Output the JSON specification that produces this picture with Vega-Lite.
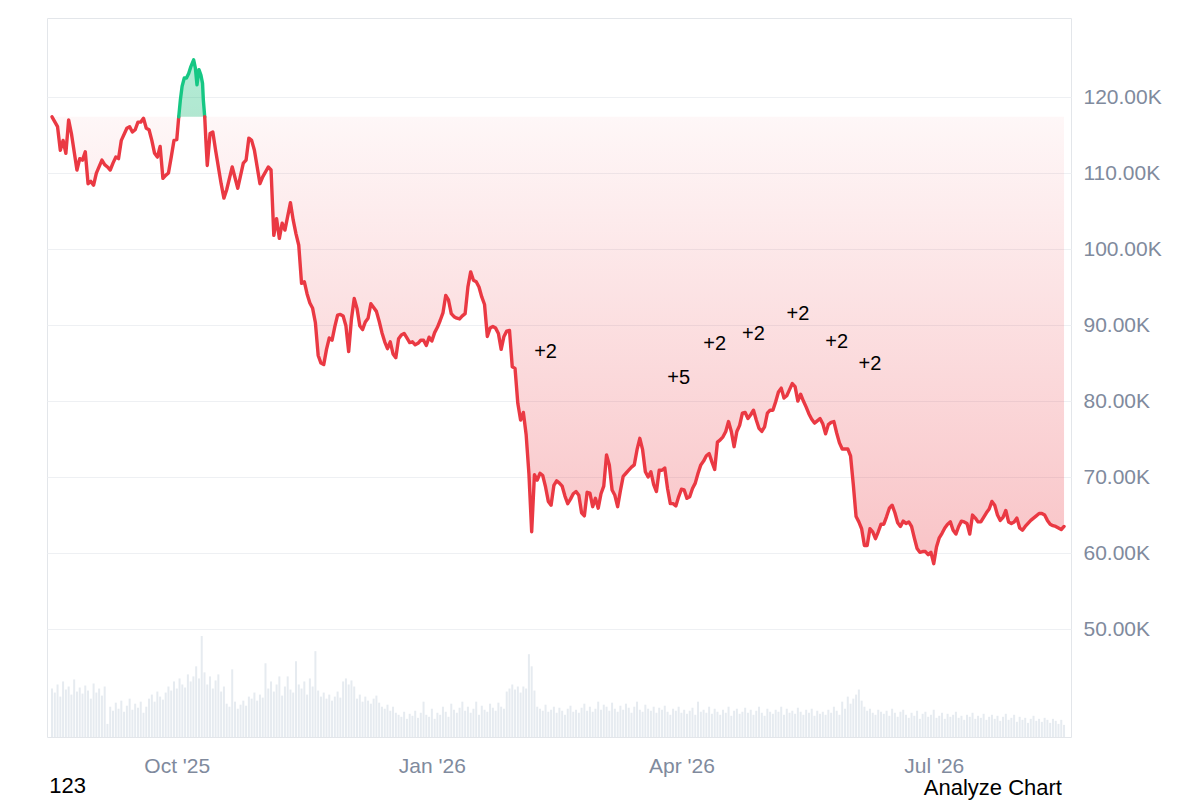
{
  "$schema": "https://vega.github.io/schema/vega-lite/v6.json",
  "width": 1024,
  "height": 719,
  "autosize": {"type": "none"},
  "padding": {"left": 47, "top": 18, "right": 129, "bottom": 63},
  "background": "white",
  "config": {"font": "Liberation Sans", "view": {"stroke": "#e3e6ea", "strokeWidth": 1}},
  "datasets": {
    "price": [
      {"t":"2025-08-17","p":117.4,"s":"a"},{"t":"2025-08-19","p":116.1,"s":"a"},{"t":"2025-08-20","p":113.0,"s":"a"},{"t":"2025-08-21","p":114.3,"s":"a"},{"t":"2025-08-22","p":112.6,"s":"a"},{"t":"2025-08-23","p":117.0,"s":"a"},{"t":"2025-08-24","p":115.2,"s":"a"},{"t":"2025-08-26","p":110.4,"s":"a"},{"t":"2025-08-27","p":111.9,"s":"a"},{"t":"2025-08-28","p":111.7,"s":"a"},{"t":"2025-08-29","p":112.8,"s":"a"},{"t":"2025-08-30","p":108.6,"s":"a"},{"t":"2025-08-31","p":108.9,"s":"a"},
      {"t":"2025-09-01","p":108.4,"s":"a"},{"t":"2025-09-02","p":110.0,"s":"a"},{"t":"2025-09-04","p":111.7,"s":"a"},{"t":"2025-09-05","p":111.1,"s":"a"},{"t":"2025-09-06","p":110.8,"s":"a"},{"t":"2025-09-07","p":110.4,"s":"a"},{"t":"2025-09-08","p":111.3,"s":"a"},{"t":"2025-09-09","p":112.1,"s":"a"},{"t":"2025-09-10","p":111.9,"s":"a"},{"t":"2025-09-11","p":114.3,"s":"a"},{"t":"2025-09-13","p":115.9,"s":"a"},{"t":"2025-09-14","p":116.1,"s":"a"},{"t":"2025-09-15","p":115.4,"s":"a"},{"t":"2025-09-16","p":115.7,"s":"a"},{"t":"2025-09-17","p":116.7,"s":"a"},{"t":"2025-09-18","p":116.7,"s":"a"},{"t":"2025-09-19","p":117.2,"s":"a"},{"t":"2025-09-20","p":115.9,"s":"a"},{"t":"2025-09-21","p":115.7,"s":"a"},{"t":"2025-09-22","p":114.3,"s":"a"},{"t":"2025-09-23","p":112.6,"s":"a"},{"t":"2025-09-24","p":112.1,"s":"a"},{"t":"2025-09-25","p":113.5,"s":"a"},{"t":"2025-09-26","p":109.3,"s":"a"},{"t":"2025-09-27","p":109.7,"s":"a"},{"t":"2025-09-28","p":110.0,"s":"a"},{"t":"2025-09-29","p":112.1,"s":"a"},{"t":"2025-09-30","p":114.3,"s":"a"},{"t":"2025-10-01","p":114.4,"s":"a"},{"t":"2025-10-01T17:00Z","p":117.4,"s":"a"},
      {"t":"2025-10-01T17:00Z","p":117.4,"s":"up"},{"t":"2025-10-02T07:00Z","p":119.6,"s":"up"},{"t":"2025-10-02T22:00Z","p":121.4,"s":"up"},{"t":"2025-10-03T17:00Z","p":122.5,"s":"up"},{"t":"2025-10-04T12:00Z","p":122.5,"s":"up"},{"t":"2025-10-05T07:00Z","p":123.1,"s":"up"},{"t":"2025-10-06T02:00Z","p":124.0,"s":"up"},{"t":"2025-10-07T02:00Z","p":124.9,"s":"up"},{"t":"2025-10-07T17:00Z","p":123.8,"s":"up"},{"t":"2025-10-08T07:00Z","p":121.6,"s":"up"},{"t":"2025-10-09T00:00Z","p":123.6,"s":"up"},{"t":"2025-10-09T17:00Z","p":122.9,"s":"up"},{"t":"2025-10-10T07:00Z","p":121.8,"s":"up"},{"t":"2025-10-10T14:00Z","p":119.6,"s":"up"},{"t":"2025-10-11T02:00Z","p":117.4,"s":"up"},
      {"t":"2025-10-11T02:00Z","p":117.4,"s":"b"},{"t":"2025-10-11T12:00Z","p":114.3,"s":"b"},{"t":"2025-10-12","p":111.0,"s":"b"},{"t":"2025-10-13","p":115.2,"s":"b"},{"t":"2025-10-14","p":115.4,"s":"b"},{"t":"2025-10-15","p":113.0,"s":"b"},{"t":"2025-10-17","p":108.6,"s":"b"},{"t":"2025-10-18","p":106.7,"s":"b"},{"t":"2025-10-19","p":107.8,"s":"b"},{"t":"2025-10-21","p":110.8,"s":"b"},{"t":"2025-10-23","p":108.0,"s":"b"},{"t":"2025-10-25","p":111.3,"s":"b"},{"t":"2025-10-26","p":111.7,"s":"b"},{"t":"2025-10-27","p":114.6,"s":"b"},{"t":"2025-10-28","p":114.3,"s":"b"},{"t":"2025-10-29","p":113.0,"s":"b"},{"t":"2025-10-31","p":108.6,"s":"b"},
      {"t":"2025-11-01","p":109.5,"s":"b"},{"t":"2025-11-03","p":110.8,"s":"b"},{"t":"2025-11-04","p":110.4,"s":"b"},{"t":"2025-11-05","p":101.8,"s":"b"},{"t":"2025-11-06","p":104.0,"s":"b"},{"t":"2025-11-07","p":101.4,"s":"b"},{"t":"2025-11-08","p":103.4,"s":"b"},{"t":"2025-11-09","p":102.5,"s":"b"},{"t":"2025-11-11","p":106.1,"s":"b"},{"t":"2025-11-12","p":103.8,"s":"b"},{"t":"2025-11-13","p":102.0,"s":"b"},{"t":"2025-11-14","p":100.5,"s":"b"},{"t":"2025-11-15","p":95.5,"s":"b"},{"t":"2025-11-16","p":95.7,"s":"b"},{"t":"2025-11-17","p":94.1,"s":"b"},{"t":"2025-11-18","p":92.9,"s":"b"},{"t":"2025-11-19","p":92.2,"s":"b"},{"t":"2025-11-20","p":90.3,"s":"b"},{"t":"2025-11-21","p":86.0,"s":"b"},{"t":"2025-11-22","p":85.0,"s":"b"},{"t":"2025-11-23","p":84.8,"s":"b"},{"t":"2025-11-24","p":86.8,"s":"b"},{"t":"2025-11-25","p":88.3,"s":"b"},{"t":"2025-11-26","p":88.0,"s":"b"},{"t":"2025-11-27","p":89.8,"s":"b"},{"t":"2025-11-28","p":91.3,"s":"b"},{"t":"2025-11-29","p":91.4,"s":"b"},{"t":"2025-11-30","p":91.2,"s":"b"},
      {"t":"2025-12-01","p":89.9,"s":"b"},{"t":"2025-12-02","p":86.5,"s":"b"},{"t":"2025-12-03","p":90.8,"s":"b"},{"t":"2025-12-04","p":93.5,"s":"b"},{"t":"2025-12-05","p":92.2,"s":"b"},{"t":"2025-12-06","p":89.9,"s":"b"},{"t":"2025-12-07","p":89.4,"s":"b"},{"t":"2025-12-08","p":90.4,"s":"b"},{"t":"2025-12-09","p":90.9,"s":"b"},{"t":"2025-12-10","p":92.8,"s":"b"},{"t":"2025-12-11","p":92.3,"s":"b"},{"t":"2025-12-12","p":91.8,"s":"b"},{"t":"2025-12-13","p":90.5,"s":"b"},{"t":"2025-12-14","p":89.0,"s":"b"},{"t":"2025-12-15","p":87.8,"s":"b"},{"t":"2025-12-16","p":86.9,"s":"b"},{"t":"2025-12-17","p":87.8,"s":"b"},{"t":"2025-12-18","p":86.2,"s":"b"},{"t":"2025-12-19","p":85.7,"s":"b"},{"t":"2025-12-20","p":88.2,"s":"b"},{"t":"2025-12-21","p":88.7,"s":"b"},{"t":"2025-12-22","p":88.9,"s":"b"},{"t":"2025-12-23","p":88.3,"s":"b"},{"t":"2025-12-24","p":87.7,"s":"b"},{"t":"2025-12-25","p":87.8,"s":"b"},{"t":"2025-12-26","p":87.4,"s":"b"},{"t":"2025-12-27","p":87.6,"s":"b"},{"t":"2025-12-28","p":88.0,"s":"b"},{"t":"2025-12-29","p":88.0,"s":"b"},{"t":"2025-12-30","p":87.3,"s":"b"},{"t":"2025-12-31","p":88.4,"s":"b"},
      {"t":"2026-01-01","p":87.9,"s":"b"},{"t":"2026-01-02","p":89.0,"s":"b"},{"t":"2026-01-03","p":89.7,"s":"b"},{"t":"2026-01-04","p":90.6,"s":"b"},{"t":"2026-01-05","p":91.6,"s":"b"},{"t":"2026-01-06","p":93.9,"s":"b"},{"t":"2026-01-07","p":93.3,"s":"b"},{"t":"2026-01-08","p":91.5,"s":"b"},{"t":"2026-01-09","p":91.1,"s":"b"},{"t":"2026-01-10","p":90.9,"s":"b"},{"t":"2026-01-11","p":90.8,"s":"b"},{"t":"2026-01-12","p":91.2,"s":"b"},{"t":"2026-01-13","p":91.5,"s":"b"},{"t":"2026-01-14","p":95.0,"s":"b"},{"t":"2026-01-15","p":97.0,"s":"b"},{"t":"2026-01-16","p":95.9,"s":"b"},{"t":"2026-01-17","p":95.7,"s":"b"},{"t":"2026-01-18","p":95.0,"s":"b"},{"t":"2026-01-19","p":93.7,"s":"b"},{"t":"2026-01-20","p":92.7,"s":"b"},{"t":"2026-01-21","p":88.5,"s":"b"},{"t":"2026-01-22","p":89.6,"s":"b"},{"t":"2026-01-23","p":89.8,"s":"b"},{"t":"2026-01-24","p":89.6,"s":"b"},{"t":"2026-01-25","p":88.9,"s":"b"},{"t":"2026-01-26","p":86.8,"s":"b"},{"t":"2026-01-27","p":88.5,"s":"b"},{"t":"2026-01-28","p":89.2,"s":"b"},{"t":"2026-01-29","p":89.3,"s":"b"},{"t":"2026-01-30","p":84.5,"s":"b"},{"t":"2026-01-31","p":84.3,"s":"b"},
      {"t":"2026-02-01","p":79.7,"s":"b"},{"t":"2026-02-02","p":77.5,"s":"b"},{"t":"2026-02-03","p":78.5,"s":"b"},{"t":"2026-02-04","p":75.6,"s":"b"},{"t":"2026-02-05","p":70.5,"s":"b"},{"t":"2026-02-06","p":62.8,"s":"b"},{"t":"2026-02-07","p":70.3,"s":"b"},{"t":"2026-02-08","p":69.6,"s":"b"},{"t":"2026-02-09","p":70.5,"s":"b"},{"t":"2026-02-10","p":70.2,"s":"b"},{"t":"2026-02-11","p":68.7,"s":"b"},{"t":"2026-02-12","p":66.8,"s":"b"},{"t":"2026-02-13","p":66.3,"s":"b"},{"t":"2026-02-14","p":68.9,"s":"b"},{"t":"2026-02-15","p":69.5,"s":"b"},{"t":"2026-02-16","p":69.2,"s":"b"},{"t":"2026-02-17","p":68.8,"s":"b"},{"t":"2026-02-18","p":67.5,"s":"b"},{"t":"2026-02-19","p":66.5,"s":"b"},{"t":"2026-02-20","p":67.1,"s":"b"},{"t":"2026-02-21","p":67.8,"s":"b"},{"t":"2026-02-22","p":68.1,"s":"b"},{"t":"2026-02-23","p":67.6,"s":"b"},{"t":"2026-02-24","p":65.3,"s":"b"},{"t":"2026-02-25","p":64.9,"s":"b"},{"t":"2026-02-26","p":68.0,"s":"b"},{"t":"2026-02-27","p":67.9,"s":"b"},{"t":"2026-02-28","p":66.1,"s":"b"},
      {"t":"2026-03-01","p":67.2,"s":"b"},{"t":"2026-03-02","p":65.9,"s":"b"},{"t":"2026-03-03","p":67.8,"s":"b"},{"t":"2026-03-04","p":68.8,"s":"b"},{"t":"2026-03-05","p":72.9,"s":"b"},{"t":"2026-03-06","p":71.6,"s":"b"},{"t":"2026-03-07","p":68.3,"s":"b"},{"t":"2026-03-08","p":67.6,"s":"b"},{"t":"2026-03-09","p":66.1,"s":"b"},{"t":"2026-03-10","p":68.2,"s":"b"},{"t":"2026-03-11","p":70.1,"s":"b"},{"t":"2026-03-12","p":70.5,"s":"b"},{"t":"2026-03-13","p":70.9,"s":"b"},{"t":"2026-03-14","p":71.3,"s":"b"},{"t":"2026-03-15","p":71.6,"s":"b"},{"t":"2026-03-16","p":73.6,"s":"b"},{"t":"2026-03-17","p":75.1,"s":"b"},{"t":"2026-03-18","p":73.6,"s":"b"},{"t":"2026-03-19","p":70.7,"s":"b"},{"t":"2026-03-20","p":70.0,"s":"b"},{"t":"2026-03-21","p":70.7,"s":"b"},{"t":"2026-03-22","p":69.0,"s":"b"},{"t":"2026-03-23","p":68.1,"s":"b"},{"t":"2026-03-24","p":70.9,"s":"b"},{"t":"2026-03-25","p":70.9,"s":"b"},{"t":"2026-03-26","p":71.2,"s":"b"},{"t":"2026-03-27","p":68.5,"s":"b"},{"t":"2026-03-28","p":66.5,"s":"b"},{"t":"2026-03-29","p":66.5,"s":"b"},{"t":"2026-03-30","p":66.2,"s":"b"},{"t":"2026-03-31","p":67.4,"s":"b"},
      {"t":"2026-04-01","p":68.4,"s":"b"},{"t":"2026-04-02","p":68.3,"s":"b"},{"t":"2026-04-03","p":67.2,"s":"b"},{"t":"2026-04-04","p":67.4,"s":"b"},{"t":"2026-04-05","p":68.5,"s":"b"},{"t":"2026-04-06","p":69.2,"s":"b"},{"t":"2026-04-07","p":70.5,"s":"b"},{"t":"2026-04-08","p":71.6,"s":"b"},{"t":"2026-04-09","p":72.1,"s":"b"},{"t":"2026-04-10","p":72.8,"s":"b"},{"t":"2026-04-11","p":73.1,"s":"b"},{"t":"2026-04-12","p":72.0,"s":"b"},{"t":"2026-04-13","p":71.0,"s":"b"},{"t":"2026-04-14","p":74.6,"s":"b"},{"t":"2026-04-15","p":74.9,"s":"b"},{"t":"2026-04-16","p":75.3,"s":"b"},{"t":"2026-04-17","p":76.0,"s":"b"},{"t":"2026-04-18","p":77.3,"s":"b"},{"t":"2026-04-19","p":76.0,"s":"b"},{"t":"2026-04-20","p":74.0,"s":"b"},{"t":"2026-04-21","p":76.0,"s":"b"},{"t":"2026-04-22","p":76.8,"s":"b"},{"t":"2026-04-23","p":78.4,"s":"b"},{"t":"2026-04-24","p":78.5,"s":"b"},{"t":"2026-04-25","p":77.7,"s":"b"},{"t":"2026-04-26","p":78.2,"s":"b"},{"t":"2026-04-27","p":78.8,"s":"b"},{"t":"2026-04-28","p":77.5,"s":"b"},{"t":"2026-04-29","p":76.4,"s":"b"},{"t":"2026-04-30","p":76.0,"s":"b"},
      {"t":"2026-05-01","p":76.6,"s":"b"},{"t":"2026-05-02","p":78.4,"s":"b"},{"t":"2026-05-03","p":78.8,"s":"b"},{"t":"2026-05-04","p":78.8,"s":"b"},{"t":"2026-05-05","p":79.9,"s":"b"},{"t":"2026-05-06","p":81.2,"s":"b"},{"t":"2026-05-07","p":81.7,"s":"b"},{"t":"2026-05-08","p":80.4,"s":"b"},{"t":"2026-05-09","p":80.7,"s":"b"},{"t":"2026-05-10","p":81.5,"s":"b"},{"t":"2026-05-11","p":82.3,"s":"b"},{"t":"2026-05-12","p":81.9,"s":"b"},{"t":"2026-05-13","p":80.0,"s":"b"},{"t":"2026-05-14","p":80.9,"s":"b"},{"t":"2026-05-15","p":80.0,"s":"b"},{"t":"2026-05-16","p":79.2,"s":"b"},{"t":"2026-05-17","p":78.3,"s":"b"},{"t":"2026-05-18","p":77.6,"s":"b"},{"t":"2026-05-19","p":77.1,"s":"b"},{"t":"2026-05-20","p":77.4,"s":"b"},{"t":"2026-05-21","p":77.7,"s":"b"},{"t":"2026-05-22","p":77.0,"s":"b"},{"t":"2026-05-23","p":75.7,"s":"b"},{"t":"2026-05-24","p":76.9,"s":"b"},{"t":"2026-05-25","p":77.2,"s":"b"},{"t":"2026-05-26","p":77.3,"s":"b"},{"t":"2026-05-27","p":75.8,"s":"b"},{"t":"2026-05-28","p":74.5,"s":"b"},{"t":"2026-05-29","p":73.7,"s":"b"},{"t":"2026-05-30","p":73.7,"s":"b"},{"t":"2026-05-31","p":73.7,"s":"b"},
      {"t":"2026-06-01","p":72.8,"s":"b"},{"t":"2026-06-02","p":69.0,"s":"b"},{"t":"2026-06-03","p":64.8,"s":"b"},{"t":"2026-06-04","p":64.1,"s":"b"},{"t":"2026-06-05","p":63.2,"s":"b"},{"t":"2026-06-06","p":61.0,"s":"b"},{"t":"2026-06-07","p":61.0,"s":"b"},{"t":"2026-06-08","p":63.2,"s":"b"},{"t":"2026-06-09","p":62.8,"s":"b"},{"t":"2026-06-10","p":61.9,"s":"b"},{"t":"2026-06-11","p":62.8,"s":"b"},{"t":"2026-06-12","p":63.8,"s":"b"},{"t":"2026-06-13","p":63.8,"s":"b"},{"t":"2026-06-14","p":64.8,"s":"b"},{"t":"2026-06-15","p":65.9,"s":"b"},{"t":"2026-06-16","p":66.3,"s":"b"},{"t":"2026-06-17","p":65.3,"s":"b"},{"t":"2026-06-18","p":64.0,"s":"b"},{"t":"2026-06-19","p":63.5,"s":"b"},{"t":"2026-06-20","p":64.2,"s":"b"},{"t":"2026-06-21","p":63.9,"s":"b"},{"t":"2026-06-22","p":64.1,"s":"b"},{"t":"2026-06-23","p":63.5,"s":"b"},{"t":"2026-06-24","p":62.0,"s":"b"},{"t":"2026-06-25","p":60.6,"s":"b"},{"t":"2026-06-26","p":60.1,"s":"b"},{"t":"2026-06-27","p":60.2,"s":"b"},{"t":"2026-06-28","p":60.2,"s":"b"},{"t":"2026-06-29","p":59.8,"s":"b"},{"t":"2026-06-30","p":60.1,"s":"b"},
      {"t":"2026-07-01","p":58.6,"s":"b"},{"t":"2026-07-02","p":60.8,"s":"b"},{"t":"2026-07-03","p":62.0,"s":"b"},{"t":"2026-07-04","p":62.6,"s":"b"},{"t":"2026-07-05","p":63.3,"s":"b"},{"t":"2026-07-06","p":63.8,"s":"b"},{"t":"2026-07-07","p":64.1,"s":"b"},{"t":"2026-07-08","p":63.0,"s":"b"},{"t":"2026-07-09","p":62.5,"s":"b"},{"t":"2026-07-10","p":63.5,"s":"b"},{"t":"2026-07-11","p":64.2,"s":"b"},{"t":"2026-07-12","p":64.1,"s":"b"},{"t":"2026-07-13","p":63.9,"s":"b"},{"t":"2026-07-14","p":62.5,"s":"b"},{"t":"2026-07-15","p":65.0,"s":"b"},{"t":"2026-07-16","p":64.6,"s":"b"},{"t":"2026-07-17","p":64.1,"s":"b"},{"t":"2026-07-18","p":64.1,"s":"b"},{"t":"2026-07-19","p":64.7,"s":"b"},{"t":"2026-07-20","p":65.3,"s":"b"},{"t":"2026-07-21","p":65.8,"s":"b"},{"t":"2026-07-22","p":66.8,"s":"b"},{"t":"2026-07-23","p":66.3,"s":"b"},{"t":"2026-07-24","p":65.0,"s":"b"},{"t":"2026-07-25","p":64.3,"s":"b"},{"t":"2026-07-26","p":64.7,"s":"b"},{"t":"2026-07-27","p":65.6,"s":"b"},{"t":"2026-07-28","p":64.1,"s":"b"},{"t":"2026-07-29","p":63.9,"s":"b"},{"t":"2026-07-30","p":64.1,"s":"b"},{"t":"2026-07-31","p":64.6,"s":"b"},
      {"t":"2026-08-01","p":63.3,"s":"b"},{"t":"2026-08-02","p":63.0,"s":"b"},{"t":"2026-08-03","p":63.5,"s":"b"},{"t":"2026-08-04","p":63.9,"s":"b"},{"t":"2026-08-05","p":64.3,"s":"b"},{"t":"2026-08-06","p":64.6,"s":"b"},{"t":"2026-08-07","p":64.9,"s":"b"},{"t":"2026-08-08","p":65.2,"s":"b"},{"t":"2026-08-09","p":65.2,"s":"b"},{"t":"2026-08-10","p":65.0,"s":"b"},{"t":"2026-08-11","p":64.3,"s":"b"},{"t":"2026-08-12","p":63.8,"s":"b"},{"t":"2026-08-13","p":63.6,"s":"b"},{"t":"2026-08-14","p":63.5,"s":"b"},{"t":"2026-08-15","p":63.3,"s":"b"},{"t":"2026-08-16","p":63.1,"s":"b"},{"t":"2026-08-17","p":63.5,"s":"b"}
    ],
    "ann": [
      {"t":"2026-02-11","p":86.4,"label":"+2"},{"t":"2026-03-31","p":83.0,"label":"+5"},{"t":"2026-04-13","p":87.5,"label":"+2"},{"t":"2026-04-27","p":88.8,"label":"+2"},{"t":"2026-05-13","p":91.4,"label":"+2"},{"t":"2026-05-27","p":87.8,"label":"+2"},{"t":"2026-06-08","p":84.9,"label":"+2"}
    ],
    "foot": [
      {"t":"2026-08-16T06:00Z","p":28.2,"label":"Analyze Chart","side":"right"},
      {"t":"2025-08-16T00:00Z","p":28.4,"label":"123","side":"left"}
    ],
    "vol": [
      {"t":"2025-08-17","v":48},{"t":"2025-08-18","v":44},{"t":"2025-08-19","v":52},{"t":"2025-08-20","v":40},{"t":"2025-08-21","v":55},{"t":"2025-08-22","v":47},{"t":"2025-08-23","v":50},{"t":"2025-08-24","v":42},{"t":"2025-08-25","v":57},{"t":"2025-08-26","v":45},{"t":"2025-08-27","v":49},{"t":"2025-08-28","v":43},{"t":"2025-08-29","v":51},{"t":"2025-08-30","v":46},{"t":"2025-08-31","v":38},
      {"t":"2025-09-01","v":53},{"t":"2025-09-02","v":44},{"t":"2025-09-03","v":48},{"t":"2025-09-04","v":41},{"t":"2025-09-05","v":50},{"t":"2025-09-06","v":13},{"t":"2025-09-07","v":30},{"t":"2025-09-08","v":26},{"t":"2025-09-09","v":34},{"t":"2025-09-10","v":28},{"t":"2025-09-11","v":36},{"t":"2025-09-12","v":25},{"t":"2025-09-13","v":31},{"t":"2025-09-14","v":38},{"t":"2025-09-15","v":27},{"t":"2025-09-16","v":33},{"t":"2025-09-17","v":29},{"t":"2025-09-18","v":35},{"t":"2025-09-19","v":24},{"t":"2025-09-20","v":30},{"t":"2025-09-21","v":38},{"t":"2025-09-22","v":42},{"t":"2025-09-23","v":35},{"t":"2025-09-24","v":45},{"t":"2025-09-25","v":40},{"t":"2025-09-26","v":37},{"t":"2025-09-27","v":44},{"t":"2025-09-28","v":50},{"t":"2025-09-29","v":46},{"t":"2025-09-30","v":55},
      {"t":"2025-10-01","v":48},{"t":"2025-10-02","v":58},{"t":"2025-10-03","v":52},{"t":"2025-10-04","v":49},{"t":"2025-10-05","v":62},{"t":"2025-10-06","v":55},{"t":"2025-10-07","v":60},{"t":"2025-10-08","v":70},{"t":"2025-10-09","v":58},{"t":"2025-10-10","v":100},{"t":"2025-10-11","v":64},{"t":"2025-10-12","v":52},{"t":"2025-10-13","v":60},{"t":"2025-10-14","v":48},{"t":"2025-10-15","v":56},{"t":"2025-10-16","v":62},{"t":"2025-10-17","v":45},{"t":"2025-10-18","v":50},{"t":"2025-10-19","v":33},{"t":"2025-10-20","v":30},{"t":"2025-10-21","v":67},{"t":"2025-10-22","v":35},{"t":"2025-10-23","v":28},{"t":"2025-10-24","v":32},{"t":"2025-10-25","v":36},{"t":"2025-10-26","v":31},{"t":"2025-10-27","v":40},{"t":"2025-10-28","v":38},{"t":"2025-10-29","v":44},{"t":"2025-10-30","v":36},{"t":"2025-10-31","v":42},
      {"t":"2025-11-01","v":39},{"t":"2025-11-02","v":73},{"t":"2025-11-03","v":48},{"t":"2025-11-04","v":55},{"t":"2025-11-05","v":45},{"t":"2025-11-06","v":52},{"t":"2025-11-07","v":60},{"t":"2025-11-08","v":41},{"t":"2025-11-09","v":50},{"t":"2025-11-10","v":60},{"t":"2025-11-11","v":47},{"t":"2025-11-12","v":44},{"t":"2025-11-13","v":75},{"t":"2025-11-14","v":52},{"t":"2025-11-15","v":48},{"t":"2025-11-16","v":55},{"t":"2025-11-17","v":42},{"t":"2025-11-18","v":58},{"t":"2025-11-19","v":50},{"t":"2025-11-20","v":85},{"t":"2025-11-21","v":46},{"t":"2025-11-22","v":40},{"t":"2025-11-23","v":44},{"t":"2025-11-24","v":38},{"t":"2025-11-25","v":42},{"t":"2025-11-26","v":36},{"t":"2025-11-27","v":40},{"t":"2025-11-28","v":45},{"t":"2025-11-29","v":39},{"t":"2025-11-30","v":55},
      {"t":"2025-12-01","v":58},{"t":"2025-12-02","v":52},{"t":"2025-12-03","v":56},{"t":"2025-12-04","v":50},{"t":"2025-12-05","v":38},{"t":"2025-12-06","v":42},{"t":"2025-12-07","v":35},{"t":"2025-12-08","v":40},{"t":"2025-12-09","v":36},{"t":"2025-12-10","v":33},{"t":"2025-12-11","v":38},{"t":"2025-12-12","v":41},{"t":"2025-12-13","v":34},{"t":"2025-12-14","v":30},{"t":"2025-12-15","v":28},{"t":"2025-12-16","v":32},{"t":"2025-12-17","v":26},{"t":"2025-12-18","v":30},{"t":"2025-12-19","v":24},{"t":"2025-12-20","v":22},{"t":"2025-12-21","v":20},{"t":"2025-12-22","v":25},{"t":"2025-12-23","v":18},{"t":"2025-12-24","v":23},{"t":"2025-12-25","v":21},{"t":"2025-12-26","v":26},{"t":"2025-12-27","v":19},{"t":"2025-12-28","v":24},{"t":"2025-12-29","v":35},{"t":"2025-12-30","v":22},{"t":"2025-12-31","v":20},
      {"t":"2026-01-01","v":28},{"t":"2026-01-02","v":18},{"t":"2026-01-03","v":24},{"t":"2026-01-04","v":22},{"t":"2026-01-05","v":30},{"t":"2026-01-06","v":25},{"t":"2026-01-07","v":20},{"t":"2026-01-08","v":33},{"t":"2026-01-09","v":27},{"t":"2026-01-10","v":24},{"t":"2026-01-11","v":29},{"t":"2026-01-12","v":35},{"t":"2026-01-13","v":26},{"t":"2026-01-14","v":30},{"t":"2026-01-15","v":24},{"t":"2026-01-16","v":28},{"t":"2026-01-17","v":35},{"t":"2026-01-18","v":22},{"t":"2026-01-19","v":31},{"t":"2026-01-20","v":27},{"t":"2026-01-21","v":25},{"t":"2026-01-22","v":33},{"t":"2026-01-23","v":29},{"t":"2026-01-24","v":26},{"t":"2026-01-25","v":34},{"t":"2026-01-26","v":30},{"t":"2026-01-27","v":28},{"t":"2026-01-28","v":45},{"t":"2026-01-29","v":48},{"t":"2026-01-30","v":52},{"t":"2026-01-31","v":47},
      {"t":"2026-02-01","v":50},{"t":"2026-02-02","v":44},{"t":"2026-02-03","v":50},{"t":"2026-02-04","v":48},{"t":"2026-02-05","v":82},{"t":"2026-02-06","v":70},{"t":"2026-02-07","v":46},{"t":"2026-02-08","v":30},{"t":"2026-02-09","v":28},{"t":"2026-02-10","v":26},{"t":"2026-02-11","v":32},{"t":"2026-02-12","v":25},{"t":"2026-02-13","v":27},{"t":"2026-02-14","v":30},{"t":"2026-02-15","v":24},{"t":"2026-02-16","v":29},{"t":"2026-02-17","v":26},{"t":"2026-02-18","v":22},{"t":"2026-02-19","v":28},{"t":"2026-02-20","v":31},{"t":"2026-02-21","v":25},{"t":"2026-02-22","v":27},{"t":"2026-02-23","v":24},{"t":"2026-02-24","v":29},{"t":"2026-02-25","v":33},{"t":"2026-02-26","v":26},{"t":"2026-02-27","v":30},{"t":"2026-02-28","v":25},
      {"t":"2026-03-01","v":28},{"t":"2026-03-02","v":35},{"t":"2026-03-03","v":27},{"t":"2026-03-04","v":32},{"t":"2026-03-05","v":30},{"t":"2026-03-06","v":26},{"t":"2026-03-07","v":34},{"t":"2026-03-08","v":28},{"t":"2026-03-09","v":25},{"t":"2026-03-10","v":31},{"t":"2026-03-11","v":27},{"t":"2026-03-12","v":33},{"t":"2026-03-13","v":29},{"t":"2026-03-14","v":24},{"t":"2026-03-15","v":30},{"t":"2026-03-16","v":35},{"t":"2026-03-17","v":27},{"t":"2026-03-18","v":25},{"t":"2026-03-19","v":32},{"t":"2026-03-20","v":28},{"t":"2026-03-21","v":26},{"t":"2026-03-22","v":30},{"t":"2026-03-23","v":24},{"t":"2026-03-24","v":29},{"t":"2026-03-25","v":27},{"t":"2026-03-26","v":31},{"t":"2026-03-27","v":25},{"t":"2026-03-28","v":22},{"t":"2026-03-29","v":28},{"t":"2026-03-30","v":26},{"t":"2026-03-31","v":30},
      {"t":"2026-04-01","v":24},{"t":"2026-04-02","v":27},{"t":"2026-04-03","v":23},{"t":"2026-04-04","v":26},{"t":"2026-04-05","v":29},{"t":"2026-04-06","v":22},{"t":"2026-04-07","v":35},{"t":"2026-04-08","v":25},{"t":"2026-04-09","v":27},{"t":"2026-04-10","v":24},{"t":"2026-04-11","v":30},{"t":"2026-04-12","v":23},{"t":"2026-04-13","v":28},{"t":"2026-04-14","v":25},{"t":"2026-04-15","v":22},{"t":"2026-04-16","v":27},{"t":"2026-04-17","v":24},{"t":"2026-04-18","v":30},{"t":"2026-04-19","v":21},{"t":"2026-04-20","v":26},{"t":"2026-04-21","v":28},{"t":"2026-04-22","v":23},{"t":"2026-04-23","v":25},{"t":"2026-04-24","v":29},{"t":"2026-04-25","v":24},{"t":"2026-04-26","v":27},{"t":"2026-04-27","v":22},{"t":"2026-04-28","v":26},{"t":"2026-04-29","v":30},{"t":"2026-04-30","v":24},
      {"t":"2026-05-01","v":21},{"t":"2026-05-02","v":28},{"t":"2026-05-03","v":25},{"t":"2026-05-04","v":23},{"t":"2026-05-05","v":27},{"t":"2026-05-06","v":25},{"t":"2026-05-07","v":30},{"t":"2026-05-08","v":22},{"t":"2026-05-09","v":28},{"t":"2026-05-10","v":24},{"t":"2026-05-11","v":26},{"t":"2026-05-12","v":23},{"t":"2026-05-13","v":29},{"t":"2026-05-14","v":25},{"t":"2026-05-15","v":22},{"t":"2026-05-16","v":27},{"t":"2026-05-17","v":24},{"t":"2026-05-18","v":28},{"t":"2026-05-19","v":21},{"t":"2026-05-20","v":26},{"t":"2026-05-21","v":23},{"t":"2026-05-22","v":25},{"t":"2026-05-23","v":22},{"t":"2026-05-24","v":27},{"t":"2026-05-25","v":24},{"t":"2026-05-26","v":30},{"t":"2026-05-27","v":26},{"t":"2026-05-28","v":22},{"t":"2026-05-29","v":35},{"t":"2026-05-30","v":28},{"t":"2026-05-31","v":40},
      {"t":"2026-06-01","v":33},{"t":"2026-06-02","v":38},{"t":"2026-06-03","v":42},{"t":"2026-06-04","v":47},{"t":"2026-06-05","v":36},{"t":"2026-06-06","v":30},{"t":"2026-06-07","v":26},{"t":"2026-06-08","v":28},{"t":"2026-06-09","v":24},{"t":"2026-06-10","v":22},{"t":"2026-06-11","v":27},{"t":"2026-06-12","v":25},{"t":"2026-06-13","v":23},{"t":"2026-06-14","v":26},{"t":"2026-06-15","v":21},{"t":"2026-06-16","v":28},{"t":"2026-06-17","v":24},{"t":"2026-06-18","v":20},{"t":"2026-06-19","v":25},{"t":"2026-06-20","v":27},{"t":"2026-06-21","v":22},{"t":"2026-06-22","v":19},{"t":"2026-06-23","v":24},{"t":"2026-06-24","v":21},{"t":"2026-06-25","v":26},{"t":"2026-06-26","v":18},{"t":"2026-06-27","v":23},{"t":"2026-06-28","v":25},{"t":"2026-06-29","v":20},{"t":"2026-06-30","v":22},
      {"t":"2026-07-01","v":27},{"t":"2026-07-02","v":19},{"t":"2026-07-03","v":21},{"t":"2026-07-04","v":24},{"t":"2026-07-05","v":18},{"t":"2026-07-06","v":23},{"t":"2026-07-07","v":20},{"t":"2026-07-08","v":22},{"t":"2026-07-09","v":25},{"t":"2026-07-10","v":19},{"t":"2026-07-11","v":21},{"t":"2026-07-12","v":17},{"t":"2026-07-13","v":22},{"t":"2026-07-14","v":20},{"t":"2026-07-15","v":24},{"t":"2026-07-16","v":18},{"t":"2026-07-17","v":21},{"t":"2026-07-18","v":19},{"t":"2026-07-19","v":23},{"t":"2026-07-20","v":17},{"t":"2026-07-21","v":20},{"t":"2026-07-22","v":22},{"t":"2026-07-23","v":18},{"t":"2026-07-24","v":21},{"t":"2026-07-25","v":16},{"t":"2026-07-26","v":20},{"t":"2026-07-27","v":23},{"t":"2026-07-28","v":17},{"t":"2026-07-29","v":19},{"t":"2026-07-30","v":22},{"t":"2026-07-31","v":15},
      {"t":"2026-08-01","v":20},{"t":"2026-08-02","v":17},{"t":"2026-08-03","v":19},{"t":"2026-08-04","v":14},{"t":"2026-08-05","v":18},{"t":"2026-08-06","v":21},{"t":"2026-08-07","v":16},{"t":"2026-08-08","v":18},{"t":"2026-08-09","v":15},{"t":"2026-08-10","v":19},{"t":"2026-08-11","v":17},{"t":"2026-08-12","v":14},{"t":"2026-08-13","v":18},{"t":"2026-08-14","v":16},{"t":"2026-08-15","v":13},{"t":"2026-08-16","v":17},{"t":"2026-08-17","v":12}
    ]
  },
  "encoding": {
    "x": {
      "field": "t",
      "type": "temporal",
      "scale": {"type": "utc", "domain": [{"year": 2025, "month": 8, "date": 17, "utc": true}, {"year": 2026, "month": 8, "date": 17, "hours": 17, "utc": true}]},
      "axis": {
        "values": [{"year": 2025, "month": 10, "date": 1, "utc": true}, {"year": 2026, "month": 1, "date": 1, "utc": true}, {"year": 2026, "month": 4, "date": 1, "utc": true}, {"year": 2026, "month": 7, "date": 1, "utc": true}],
        "format": "%b '%y",
        "labelFontSize": 21,
        "labelColor": "#808a9d",
        "labelPadding": 18,
        "grid": false,
        "ticks": false,
        "domain": false,
        "title": null
      }
    }
  },
  "layer": [
    {
      "data": {"name": "vol"},
      "mark": {"type": "bar", "size": 2, "color": "#e6ebf0"},
      "encoding": {"y": {"field": "v", "type": "quantitative", "scale": {"domain": [0, 712]}, "axis": null}}
    },
    {
      "encoding": {
        "y": {
          "field": "p",
          "type": "quantitative",
          "scale": {"domain": [35.8, 130.4], "nice": false, "zero": false},
          "axis": {
            "orient": "right",
            "values": [50, 60, 70, 80, 90, 100, 110, 120],
            "labelExpr": "format(datum.value, '.2f') + 'K'",
            "labelFontSize": 21,
            "labelColor": "#808a9d",
            "labelPadding": 12,
            "grid": true,
            "gridColor": "#eef0f3",
            "ticks": false,
            "domain": false,
            "title": null
          }
        }
      },
      "layer": [
        {
          "data": {"name": "price"},
          "mark": {
            "type": "area",
            "color": {
              "gradient": "linear", "x1": 0, "y1": 0, "x2": 0, "y2": 1,
              "stops": [
                {"offset": 0, "color": "rgba(234,57,67,0)"},
                {"offset": 0.11, "color": "rgba(234,57,67,0.04)"},
                {"offset": 1, "color": "rgba(234,57,67,0.3)"}
              ]
            }
          },
          "encoding": {"y2": {"datum": 117.4}}
        },
        {
          "data": {"name": "price"},
          "transform": [{"filter": "datum.s === 'up'"}],
          "mark": {"type": "area", "color": "#16c784", "opacity": 0.33},
          "encoding": {"y2": {"datum": 117.4}}
        },
        {
          "data": {"values": [{}]},
          "mark": {"type": "rule", "color": "#8c939d", "strokeDash": [2, 7], "strokeWidth": 2},
          "encoding": {
            "x": {"datum": {"year": 2025, "month": 8, "date": 17, "utc": true}},
            "x2": {"datum": {"year": 2026, "month": 8, "date": 17, "hours": 17, "utc": true}},
            "y": {"datum": 117.4}
          }
        },
        {
          "data": {"name": "price"},
          "mark": {"type": "line", "strokeWidth": 3.4, "strokeJoin": "round", "strokeCap": "round"},
          "encoding": {
            "color": {"field": "s", "type": "nominal", "scale": {"domain": ["a", "up", "b"], "range": ["#ea3943", "#16c784", "#ea3943"]}, "legend": null}
          }
        },
        {
          "data": {"name": "ann"},
          "mark": {"type": "text", "fontSize": 20, "color": "#000000", "align": "center", "baseline": "middle"},
          "encoding": {"text": {"field": "label", "type": "nominal"}}
        },
        {
          "data": {"name": "foot"},
          "transform": [{"filter": "datum.side === 'right'"}],
          "mark": {"type": "text", "fontSize": 22, "color": "#000000", "align": "right", "baseline": "alphabetic", "clip": false},
          "encoding": {"text": {"field": "label", "type": "nominal"}}
        },
        {
          "data": {"name": "foot"},
          "transform": [{"filter": "datum.side === 'left'"}],
          "mark": {"type": "text", "fontSize": 22, "color": "#000000", "align": "left", "baseline": "alphabetic", "clip": false},
          "encoding": {"text": {"field": "label", "type": "nominal"}}
        }
      ]
    }
  ],
  "resolve": {"scale": {"y": "independent"}}
}
